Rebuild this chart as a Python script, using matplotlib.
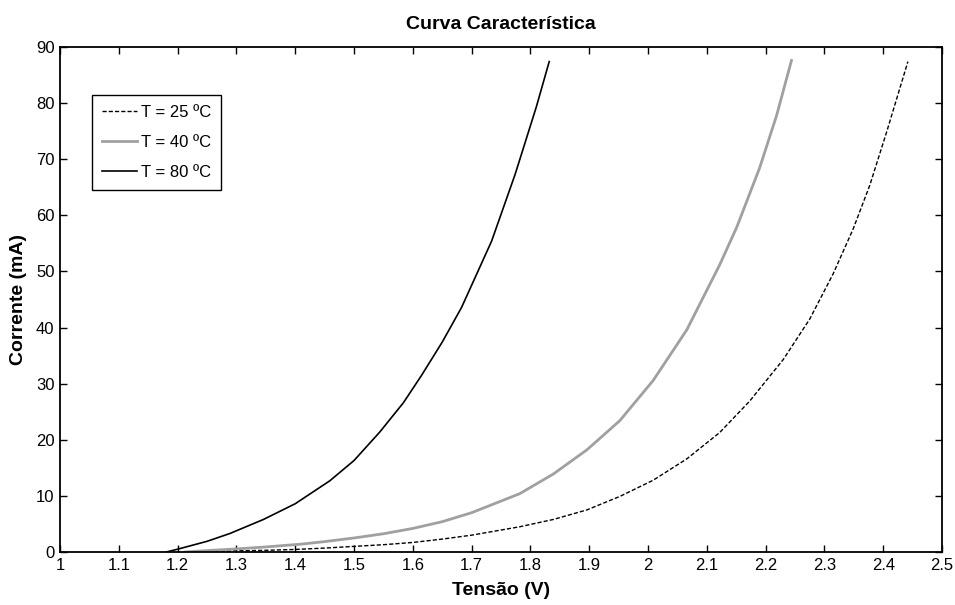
import matplotlib
matplotlib.use("Agg")
import matplotlib.pyplot as plt

plt.rcParams['font.family'] = ['Liberation Sans', 'DejaVu Sans']

# Data
V25 = [1.22, 1.25, 1.30, 1.35, 1.40, 1.45, 1.50, 1.55, 1.60, 1.65, 1.70,
       1.782, 1.839, 1.896, 1.952, 2.009, 2.066, 2.122, 2.173, 2.230,
       2.275, 2.315, 2.349, 2.377, 2.406, 2.442]
I25 = [0.0, 0.05, 0.2, 0.3, 0.45, 0.7, 1.0, 1.3, 1.7, 2.3, 3.0,
       4.5, 5.8, 7.5, 9.9, 12.8, 16.6, 21.3, 26.9, 34.3,
       41.5, 49.6, 57.6, 65.3, 74.9, 87.4]

V40 = [1.213, 1.25, 1.30, 1.35, 1.41, 1.45, 1.50, 1.55, 1.60, 1.65, 1.70,
       1.782, 1.839, 1.896, 1.952, 2.009, 2.066, 2.122, 2.151, 2.190,
       2.219, 2.244]
I40 = [0.0, 0.25, 0.55, 0.9, 1.4, 1.85, 2.5, 3.25, 4.2, 5.4, 7.0,
       10.4, 13.9, 18.2, 23.4, 30.6, 39.6, 51.2, 57.9, 68.5,
       77.9, 87.6]

V80 = [1.181, 1.20, 1.25, 1.289, 1.346, 1.40, 1.459, 1.50, 1.544, 1.584,
       1.615, 1.65, 1.683, 1.734, 1.774, 1.810, 1.832]
I80 = [0.0, 0.5, 1.9, 3.3, 5.8, 8.6, 12.7, 16.3, 21.4, 26.6,
       31.5, 37.4, 43.6, 55.4, 67.3, 79.3, 87.4]

labels = ['T = 25 ºC', 'T = 40 ºC', 'T = 80 ºC']
xticks = [1.0, 1.1, 1.2, 1.3, 1.4, 1.5, 1.6, 1.7, 1.8, 1.9, 2.0, 2.1, 2.2, 2.3, 2.4, 2.5]
xticklabels = ['1', '1.1', '1.2', '1.3', '1.4', '1.5', '1.6', '1.7', '1.8', '1.9',
               '2', '2.1', '2.2', '2.3', '2.4', '2.5']
yticks = [0, 10, 20, 30, 40, 50, 60, 70, 80, 90]

fig = plt.figure(figsize=(9.55, 6.05), dpi=100)
ax = fig.add_axes([60/955, 1-552/605, 882/955, 505/605])

ax.plot(V25, I25, color='black', linestyle=(0, (3, 1.5)), linewidth=1.0, label=labels[0])
ax.plot(V40, I40, color='#a0a0a0', linestyle='-', linewidth=2.0, label=labels[1])
ax.plot(V80, I80, color='black', linestyle='-', linewidth=1.2, label=labels[2])

ax.set_xlim(1.0, 2.5)
ax.set_ylim(0, 90)
ax.set_xticks(xticks)
ax.set_xticklabels(xticklabels)
ax.set_yticks(yticks)
ax.tick_params(direction='in', top=True, right=True, length=5, width=1.0,
               labelsize=12, pad=4)
for s in ax.spines.values():
    s.set_linewidth(1.3)

ax.set_title('Curva Característica', fontsize=14, fontweight='bold', pad=13)
ax.set_xlabel('Tensão (V)', fontsize=14, fontweight='bold', labelpad=7)
ax.set_ylabel('Corrente (mA)', fontsize=14, fontweight='bold', labelpad=6)

leg = ax.legend(loc='upper left', bbox_to_anchor=(32/882, 457/505), borderaxespad=0,
                fontsize=12, frameon=True, fancybox=False, handlelength=2.1,
                handletextpad=0.25, labelspacing=0.9, borderpad=0.6)
leg.get_frame().set_edgecolor('black')
leg.get_frame().set_linewidth(1.0)
leg.get_frame().set_alpha(1)

fig.savefig('out.png', dpi=100)
